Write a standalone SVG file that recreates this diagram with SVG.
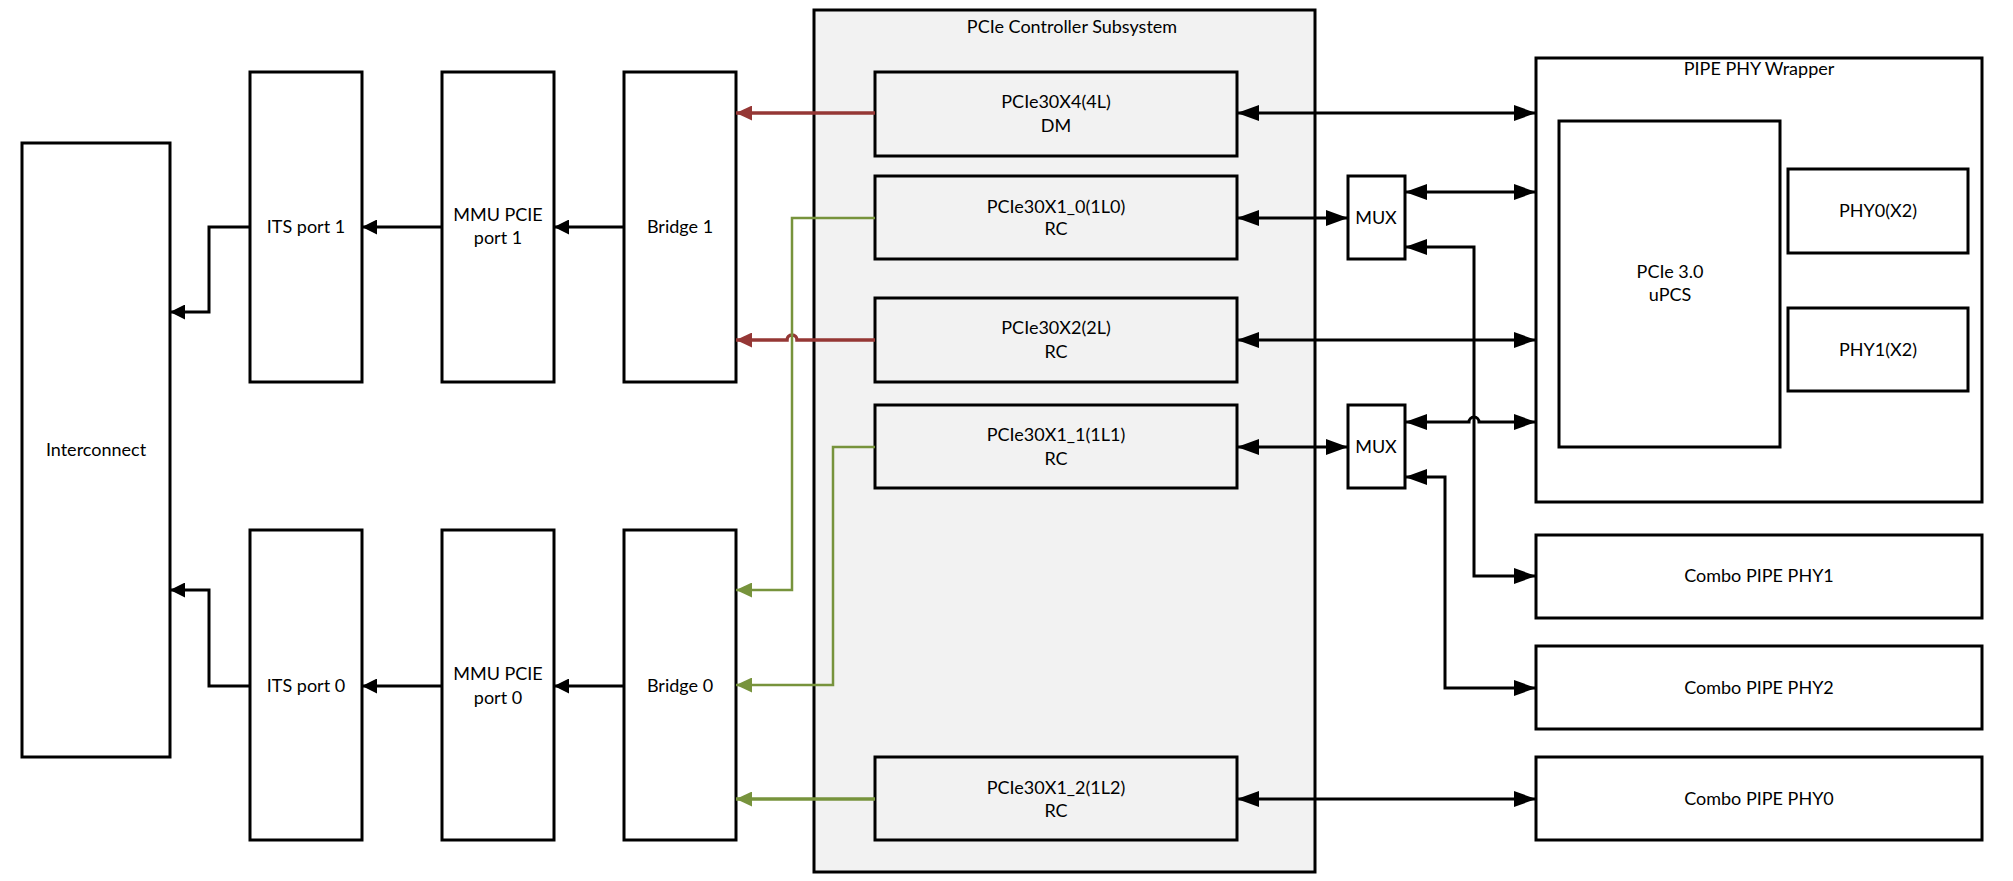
<svg xmlns="http://www.w3.org/2000/svg" width="2013" height="881" viewBox="0 0 2013 881">
<style>
  .box { fill: #ffffff; stroke: #000000; stroke-width: 3; }
  .gray { fill: #f2f2f2; stroke: #000000; stroke-width: 3; }
  .t { font-family: Lato, "Liberation Sans", Arial, sans-serif; font-size: 18px; fill: #000000; text-anchor: middle; }
  .blk { fill: none; stroke: #000000; stroke-width: 3; }
  .red { fill: none; stroke: #953735; stroke-width: 3.5; }
  .grn { fill: none; stroke: #77933c; stroke-width: 2.5; }
  .grnb { fill: none; stroke: #77933c; stroke-width: 3.5; }
</style>
<defs>
  <marker id="aS" markerUnits="userSpaceOnUse" markerWidth="15" markerHeight="15" refX="15" refY="7.5" orient="auto-start-reverse" viewBox="0 0 15 15">
    <path d="M0,0 L15,7.5 L0,15 z" fill="#000000"/>
  </marker>
  <marker id="aB" markerUnits="userSpaceOnUse" markerWidth="22" markerHeight="16" refX="22" refY="8" orient="auto-start-reverse" viewBox="0 0 22 16">
    <path d="M0,0 L22,8 L0,16 z" fill="#000000"/>
  </marker>
  <marker id="aR" markerUnits="userSpaceOnUse" markerWidth="16" markerHeight="15" refX="16" refY="7.5" orient="auto-start-reverse" viewBox="0 0 16 15">
    <path d="M0,0 L16,7.5 L0,15 z" fill="#953735"/>
  </marker>
  <marker id="aG" markerUnits="userSpaceOnUse" markerWidth="16" markerHeight="15" refX="16" refY="7.5" orient="auto-start-reverse" viewBox="0 0 16 15">
    <path d="M0,0 L16,7.5 L0,15 z" fill="#77933c"/>
  </marker>
</defs>
<rect x="0" y="0" width="2013" height="881" fill="#ffffff"/>

<g id="subsystem">
  <rect class="gray" x="814" y="10" width="501" height="862"/>
  <text class="t" x="1072" y="33">PCIe Controller Subsystem</text>
</g>
<g id="wrapper">
  <rect class="box" x="1536" y="58" width="446" height="444"/>
  <text class="t" x="1759" y="75">PIPE PHY Wrapper</text>
</g>

<g id="interconnect">
  <rect class="box" x="22" y="143" width="148" height="614"/>
  <text class="t" x="96" y="456">Interconnect</text>
</g>
<g id="its1">
  <rect class="box" x="250" y="72" width="112" height="310"/>
  <text class="t" x="306" y="233">ITS port 1</text>
</g>
<g id="mmu1">
  <rect class="box" x="442" y="72" width="112" height="310"/>
  <text class="t" x="498" y="221">MMU PCIE</text>
  <text class="t" x="498" y="244">port 1</text>
</g>
<g id="bridge1">
  <rect class="box" x="624" y="72" width="112" height="310"/>
  <text class="t" x="680" y="233">Bridge 1</text>
</g>
<g id="its0">
  <rect class="box" x="250" y="530" width="112" height="310"/>
  <text class="t" x="306" y="692">ITS port 0</text>
</g>
<g id="mmu0">
  <rect class="box" x="442" y="530" width="112" height="310"/>
  <text class="t" x="498" y="680">MMU PCIE</text>
  <text class="t" x="498" y="704">port 0</text>
</g>
<g id="bridge0">
  <rect class="box" x="624" y="530" width="112" height="310"/>
  <text class="t" x="680" y="692">Bridge 0</text>
</g>

<g id="pcie30x4">
  <rect class="gray" x="875" y="72" width="362" height="84"/>
  <text class="t" x="1056" y="108">PCIe30X4(4L)</text>
  <text class="t" x="1056" y="132">DM</text>
</g>
<g id="pcie30x1_0">
  <rect class="gray" x="875" y="176" width="362" height="83"/>
  <text class="t" x="1056" y="213">PCIe30X1_0(1L0)</text>
  <text class="t" x="1056" y="235">RC</text>
</g>
<g id="pcie30x2">
  <rect class="gray" x="875" y="298" width="362" height="84"/>
  <text class="t" x="1056" y="334">PCIe30X2(2L)</text>
  <text class="t" x="1056" y="358">RC</text>
</g>
<g id="pcie30x1_1">
  <rect class="gray" x="875" y="405" width="362" height="83"/>
  <text class="t" x="1056" y="441">PCIe30X1_1(1L1)</text>
  <text class="t" x="1056" y="465">RC</text>
</g>
<g id="pcie30x1_2">
  <rect class="gray" x="875" y="757" width="362" height="83"/>
  <text class="t" x="1056" y="794">PCIe30X1_2(1L2)</text>
  <text class="t" x="1056" y="817">RC</text>
</g>

<g id="mux1">
  <rect class="box" x="1348" y="176" width="57" height="83"/>
  <text class="t" x="1376" y="224">MUX</text>
</g>
<g id="mux2">
  <rect class="box" x="1348" y="405" width="57" height="83"/>
  <text class="t" x="1376" y="453">MUX</text>
</g>

<g id="upcs">
  <rect class="box" x="1559" y="121" width="221" height="326"/>
  <text class="t" x="1670" y="278">PCIe 3.0</text>
  <text class="t" x="1670" y="301">uPCS</text>
</g>
<g id="phy0">
  <rect class="box" x="1788" y="169" width="180" height="84"/>
  <text class="t" x="1878" y="217">PHY0(X2)</text>
</g>
<g id="phy1">
  <rect class="box" x="1788" y="308" width="180" height="83"/>
  <text class="t" x="1878" y="356">PHY1(X2)</text>
</g>

<g id="combo1">
  <rect class="box" x="1536" y="535" width="446" height="83"/>
  <text class="t" x="1759" y="582">Combo PIPE PHY1</text>
</g>
<g id="combo2">
  <rect class="box" x="1536" y="646" width="446" height="83"/>
  <text class="t" x="1759" y="694">Combo PIPE PHY2</text>
</g>
<g id="combo0">
  <rect class="box" x="1536" y="757" width="446" height="83"/>
  <text class="t" x="1759" y="805">Combo PIPE PHY0</text>
</g>

<g id="connectors">
  <path class="blk" d="M624,227 H554" marker-end="url(#aS)"/>
  <path class="blk" d="M442,227 H362" marker-end="url(#aS)"/>
  <path class="blk" d="M250,227 H209 V312 H170" marker-end="url(#aS)"/>
  <path class="blk" d="M624,686 H554" marker-end="url(#aS)"/>
  <path class="blk" d="M442,686 H362" marker-end="url(#aS)"/>
  <path class="blk" d="M250,686 H209 V590 H170" marker-end="url(#aS)"/>

  <path class="red" d="M875,113 H736" marker-end="url(#aR)"/>
  <path class="red" d="M875,340 H797 A5,5 0 0 0 787,340 H736" marker-end="url(#aR)"/>

  <path class="grn" d="M875,218 H792 V590 H736" marker-end="url(#aG)"/>
  <path class="grn" d="M875,447 H833 V685 H736" marker-end="url(#aG)"/>
  <path class="grnb" d="M875,799 H736" marker-end="url(#aG)"/>

  <path class="blk" d="M1237,113 H1536" marker-start="url(#aB)" marker-end="url(#aB)"/>
  <path class="blk" d="M1237,218 H1348" marker-start="url(#aB)" marker-end="url(#aB)"/>
  <path class="blk" d="M1405,192 H1536" marker-start="url(#aB)" marker-end="url(#aB)"/>
  <path class="blk" d="M1405,247 H1474 V576 H1536" marker-start="url(#aB)" marker-end="url(#aB)"/>
  <path class="blk" d="M1237,340 H1536" marker-start="url(#aB)" marker-end="url(#aB)"/>
  <path class="blk" d="M1237,447 H1348" marker-start="url(#aB)" marker-end="url(#aB)"/>
  <path class="blk" d="M1405,422 H1469 A5,5 0 0 1 1479,422 H1536" marker-start="url(#aB)" marker-end="url(#aB)"/>
  <path class="blk" d="M1405,477 H1445 V688 H1536" marker-start="url(#aB)" marker-end="url(#aB)"/>
  <path class="blk" d="M1237,799 H1536" marker-start="url(#aB)" marker-end="url(#aB)"/>
</g>
</svg>
